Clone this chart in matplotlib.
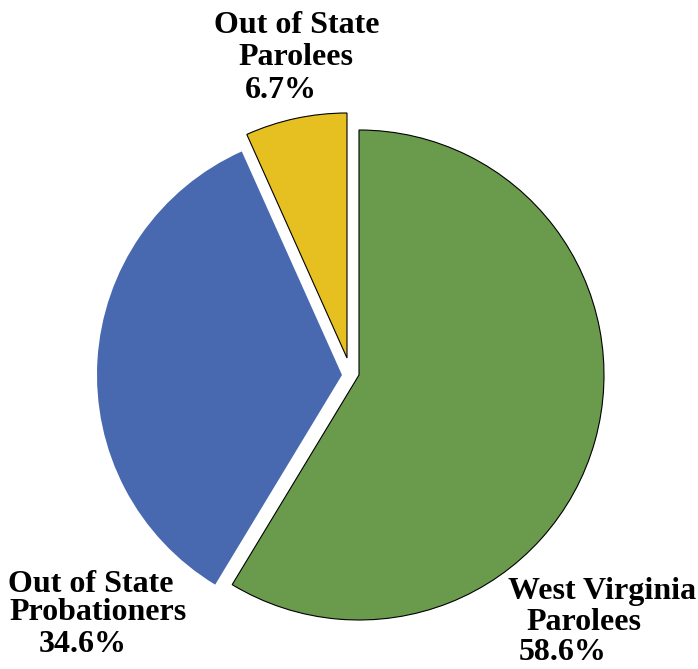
import matplotlib.pyplot as plt

names = ["West Virginia Parolees", "Out of State Probationers", "Out of State Parolees"]
pcts = [58.6, 34.6, 6.7]
colors = ["#6A9A4B", "#4868AF", "#E6C021"]

fig = plt.figure(figsize=(6.98, 6.69), dpi=100)
ax = fig.add_axes([0, 0, 1, 1])

wedges, _ = ax.pie(pcts, colors=colors, startangle=90,
                   counterclock=False, radius=1.0)

# pixel mapping: pie center at (359, 375), radius 245 px
r = 245.0
def px(x, y):
    return (x - 359) / r, (375 - y) / r

# pulled-out slices (offsets)
wedges[1].set_center(px(342, 375))
wedges[2].set_center(px(347, 358))
for w, c in zip(wedges, ["black", "none", "black"]):
    w.set_edgecolor(c)
    w.set_linewidth(0.8)

ax.set_xlim(-359 / r, (698 - 359) / r)
ax.set_ylim(-(669 - 375) / r, 375 / r)
ax.set_aspect("auto")
ax.axis("off")

font = dict(family="Liberation Serif", fontweight="bold", fontsize=23, color="black")

# (text, x, y) per line, centered
lines = [
    ("Out of State", 297, 26), ("Parolees", 296, 58), ("%.1f%%" % pcts[2], 281, 90),
    ("Out of State", 91, 584), ("Probationers", 98, 612), ("%.1f%%" % pcts[1], 83, 645),
    ("West Virginia", 602, 591), ("Parolees", 584, 622), ("%.1f%%" % pcts[0], 563, 653),
]
for t, x, y in lines:
    ax.text(*px(x, y), t, ha="center", va="center", **font)

fig.savefig("out.png", dpi=100)
